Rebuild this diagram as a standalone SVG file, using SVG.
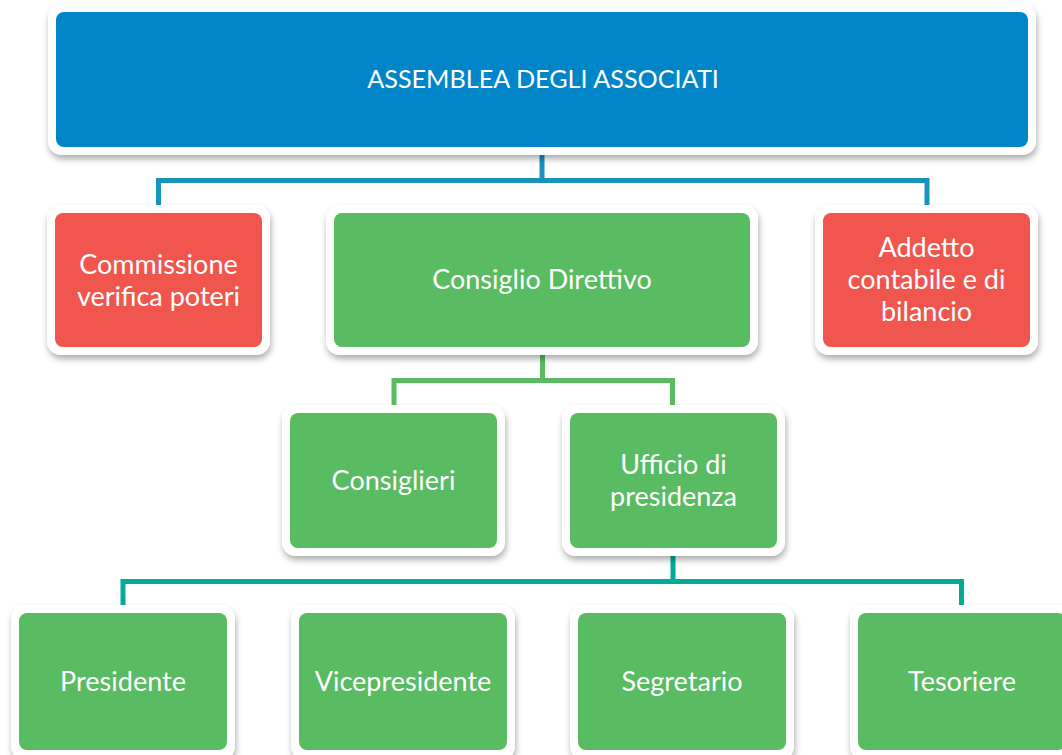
<svg xmlns="http://www.w3.org/2000/svg" width="1062" height="755" viewBox="0 0 1062 755">
<defs>
<filter id="sh" x="-10%" y="-10%" width="120%" height="130%">
<feDropShadow dx="1" dy="4" stdDeviation="3" flood-color="#000" flood-opacity="0.32"/>
</filter>
</defs>
<style>
.frame{fill:#fff;filter:url(#sh)}
.blue{fill:#0085c8}
.red{fill:#f0554e}
.green{fill:#59bb62}
text{font-family:Lato,"Open Sans","Liberation Sans",sans-serif;fill:#fff;text-anchor:middle;font-size:27px}
.c1{fill:none;stroke:#1893bd;stroke-width:5}
.c2{fill:none;stroke:#59bb62;stroke-width:5}
.c3{fill:none;stroke:#04aa98;stroke-width:5}
</style>
<rect width="1062" height="755" fill="#fff"/>
<g id="connectors">
<path class="c1" d="M158.5 205V180.5H927V205M542 150V180.5"/>
<path class="c2" d="M394 408V380.5H672.5V408M542.5 350V380.5"/>
<path class="c3" d="M123 609V581.5H961.5V609M673 550V581.5"/>
</g>
<g id="assemblea">
<rect class="frame" x="48" y="4" width="988" height="151" rx="14"/>
<rect class="blue" x="56" y="12" width="972" height="135" rx="8"/>
<text x="543" y="88" style="font-size:25.2px">ASSEMBLEA DEGLI ASSOCIATI</text>
</g>
<g id="commissione">
<rect class="frame" x="47" y="205" width="223" height="150" rx="14"/>
<rect class="red" x="55" y="213" width="207" height="134" rx="8"/>
<text x="158.5" y="274">Commissione</text>
<text x="158.5" y="306">verifica poteri</text>
</g>
<g id="consiglio">
<rect class="frame" x="326" y="205" width="432" height="150" rx="14"/>
<rect class="green" x="334" y="213" width="416" height="134" rx="8"/>
<text x="542" y="289">Consiglio Direttivo</text>
</g>
<g id="addetto">
<rect class="frame" x="815" y="205" width="223" height="150" rx="14"/>
<rect class="red" x="823" y="213" width="207" height="134" rx="8"/>
<text x="926.5" y="257">Addetto</text>
<text x="926.5" y="289">contabile e di</text>
<text x="926.5" y="321">bilancio</text>
</g>
<g id="consiglieri">
<rect class="frame" x="282" y="405" width="223" height="151" rx="14"/>
<rect class="green" x="290" y="413" width="207" height="135" rx="8"/>
<text x="393.5" y="490">Consiglieri</text>
</g>
<g id="ufficio">
<rect class="frame" x="562" y="405" width="223" height="151" rx="14"/>
<rect class="green" x="570" y="413" width="207" height="135" rx="8"/>
<text x="673.5" y="474">Ufficio di</text>
<text x="673.5" y="506">presidenza</text>
</g>
<g id="presidente">
<rect class="frame" x="11" y="605" width="224" height="155" rx="14"/>
<rect class="green" x="19" y="613" width="208" height="137" rx="8"/>
<text x="123" y="691">Presidente</text>
</g>
<g id="vicepresidente">
<rect class="frame" x="291" y="605" width="224" height="155" rx="14"/>
<rect class="green" x="299" y="613" width="208" height="137" rx="8"/>
<text x="403" y="691">Vicepresidente</text>
</g>
<g id="segretario">
<rect class="frame" x="570" y="605" width="224" height="155" rx="14"/>
<rect class="green" x="578" y="613" width="208" height="137" rx="8"/>
<text x="682" y="691">Segretario</text>
</g>
<g id="tesoriere">
<rect class="frame" x="850" y="605" width="224" height="155" rx="14"/>
<rect class="green" x="858" y="613" width="208" height="137" rx="8"/>
<text x="962" y="691">Tesoriere</text>
</g>
</svg>
